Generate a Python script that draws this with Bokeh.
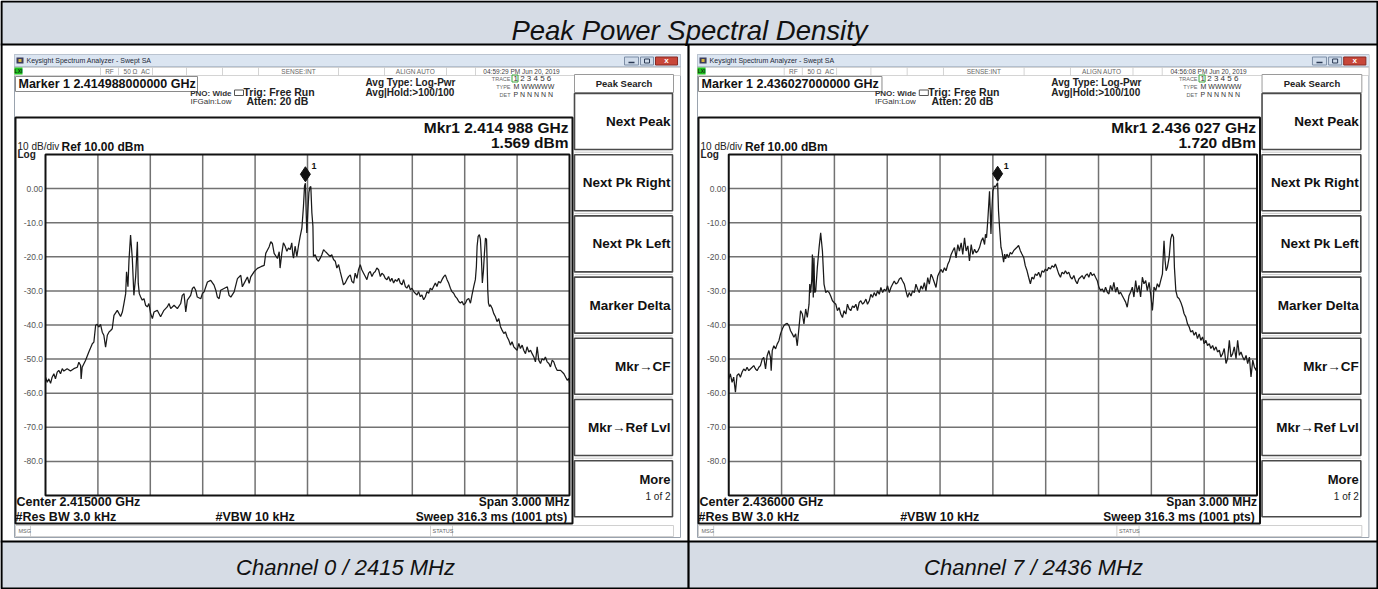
from bokeh.plotting import figure
from bokeh.models import Range1d
from bokeh.embed import file_html
from bokeh.resources import INLINE
from bokeh.core.properties import value

# ---------------- data ----------------
TITLE = "Peak Power Spectral Density"
CAPTIONS = ["Channel 0 / 2415 MHz", "Channel 7 / 2436 MHz"]
CENTER_MHZ = [2415.0, 2436.0]
SPAN_KHZ = 3000.0
REF_DBM = 10.0
DB_PER_DIV = 10.0
MARKER_MHZ = [2414.988, 2436.027]
MARKER_DBM = [1.569, 1.720]
TIMESTAMPS = ["04:59:29 PM Jun 20, 2019", "04:56:08 PM Jun 20, 2019"]
Y_TICKS = [0, -10, -20, -30, -40, -50, -60, -70, -80]
Y_TICK_LABELS = ["0.00", "-10.0", "-20.0", "-30.0", "-40.0", "-50.0", "-60.0", "-70.0", "-80.0"]
SOFTKEYS = ["Next Peak", "Next Pk Right", "Next Pk Left", "Marker Delta",
            "Mkr\u2192CF", "Mkr\u2192Ref Lvl", "More"]

# (offset from centre in kHz, level in dBm)
CH0_TRACE = [
    (-1500, -55.3), (-1490, -56.8), (-1481, -55.8), (-1471, -57.1), (-1462, -55.3), (-1452, -54.3),
    (-1443, -55.8), (-1433, -53.8), (-1424, -53.3), (-1414, -54.3), (-1404, -52.8), (-1395, -53.5),
    (-1376, -52.8), (-1357, -53.5), (-1338, -52.8), (-1318, -52.4), (-1309, -50.9), (-1299, -51.9),
    (-1296, -55.8), (-1290, -52.4), (-1271, -50.4), (-1252, -47.9), (-1232, -45.5), (-1223, -45.0),
    (-1213, -40.1), (-1204, -39.8), (-1194, -40.6), (-1185, -39.8), (-1175, -42.1), (-1166, -43.0),
    (-1156, -46.5), (-1146, -43.0), (-1137, -42.1), (-1127, -41.6), (-1118, -41.1), (-1108, -37.2),
    (-1089, -35.7), (-1070, -37.5), (-1060, -36.2), (-1051, -33.7), (-1041, -30.8), (-1036, -24.4),
    (-1028, -28.8), (-1022, -21.0), (-1013, -13.6), (-1003, -20.5), (-994, -31.3), (-984, -25.9),
    (-974, -15.6), (-969, -27.8), (-963, -30.8), (-955, -31.8), (-946, -32.7), (-936, -32.3),
    (-927, -34.2), (-917, -34.7), (-908, -33.7), (-898, -36.7), (-888, -38.1), (-879, -36.2),
    (-860, -35.7), (-841, -37.6), (-822, -35.7), (-803, -34.7), (-793, -33.7), (-783, -35.2),
    (-764, -34.2), (-745, -35.2), (-726, -33.7), (-717, -31.3), (-707, -30.8), (-697, -36.2),
    (-688, -32.7), (-669, -31.3), (-659, -29.3), (-650, -28.8), (-640, -29.8), (-631, -31.8),
    (-611, -32.3), (-602, -30.8), (-592, -30.3), (-573, -27.4), (-554, -26.9), (-535, -28.3),
    (-525, -29.8), (-516, -31.8), (-506, -32.3), (-497, -29.8), (-478, -29.3), (-459, -28.8),
    (-449, -31.3), (-439, -31.8), (-420, -30.3), (-401, -26.4), (-382, -25.4), (-373, -28.8),
    (-363, -27.8), (-344, -25.9), (-334, -27.8), (-325, -25.9), (-306, -24.4), (-287, -23.4),
    (-267, -22.9), (-248, -22.5), (-239, -19.0), (-229, -18.0), (-220, -17.1), (-210, -15.6),
    (-201, -16.1), (-191, -19.0), (-172, -20.5), (-162, -18.5),
    (-157, -23.3), (-147, -18.9), (-138, -15.9), (-128, -16.9), (-118, -18.4), (-109, -17.4),
    (-99, -17.9), (-90, -15.9), (-84, -19.4), (-80, -20.4), (-71, -16.9), (-61, -19.9),
    (-52, -16.9), (-42, -14.0), (-32, -11.5), (-23, -5.1), (-17, 0.8), (-12, 1.569),
    (-8, -6.1), (-4, -13.0), (2, -6.6), (8, -1.2), (14, 0.4), (19, 0.6), (25, -7.1), (31, -11.0),
    (34, -19.9), (44, -19.4), (54, -20.8), (63, -21.3), (73, -20.4), (82, -19.4), (92, -17.9),
    (101, -18.4), (111, -18.9), (120, -19.4), (130, -19.9), (139, -19.4), (149, -20.8),
    (159, -21.3), (168, -23.3), (178, -22.3), (187, -24.3), (197, -26.3), (206, -28.2),
    (216, -27.7), (225, -26.7), (235, -25.8), (245, -25.3), (254, -27.2), (264, -27.7),
    (273, -24.8), (283, -26.3), (292, -23.8), (302, -22.3), (311, -23.8), (321, -24.8),
    (331, -25.8), (340, -26.7), (350, -24.8), (359, -24.3), (369, -25.8), (378, -24.8),
    (388, -24.3), (397, -23.3), (407, -23.8), (417, -25.8), (426, -24.8), (436, -25.3),
    (445, -26.3), (455, -26.7), (464, -25.8), (474, -27.2), (483, -26.3), (493, -27.7),
    (503, -26.7), (512, -27.2), (522, -26.3), (531, -27.7), (541, -28.2), (550, -26.7),
    (560, -28.7), (569, -29.2), (579, -28.2), (589, -29.7), (598, -29.2), (608, -30.2),
    (617, -30.7), (627, -31.2), (636, -30.2), (646, -31.7), (655, -31.2), (665, -32.6),
    (675, -31.7), (684, -30.2), (694, -30.7), (703, -29.2), (713, -29.7), (722, -28.7),
    (732, -27.7), (741, -28.7), (751, -27.2), (761, -27.7), (770, -26.7), (780, -25.8),
    (789, -25.3), (799, -26.7), (808, -27.7), (818, -29.2), (827, -30.2), (837, -30.7),
    (847, -31.7), (856, -32.2), (866, -33.1), (875, -33.6), (885, -33.1), (894, -34.1),
    (904, -33.6), (913, -32.6), (923, -32.2), (933, -33.6), (942, -31.2), (952, -28.7),
    (961, -26.7), (967, -22.8), (971, -16.9), (977, -14.0), (984, -13.5), (990, -14.9),
    (996, -20.8), (1001, -27.7), (1007, -24.3), (1013, -18.9), (1019, -14.5), (1025, -14.9),
    (1028, -20.8), (1032, -29.7), (1036, -33.6), (1042, -34.6), (1047, -34.1), (1057, -35.1),
    (1066, -36.6), (1076, -37.6), (1085, -39.0), (1095, -38.1), (1105, -40.5), (1114, -41.5),
    (1124, -42.5), (1133, -42.0), (1143, -43.5), (1152, -44.4), (1162, -45.9), (1171, -44.9),
    (1181, -46.4), (1190, -46.9), (1200, -47.4), (1210, -45.4), (1219, -46.9), (1229, -45.9),
    (1238, -47.4), (1248, -48.4), (1257, -46.4), (1267, -47.9), (1277, -47.4), (1286, -48.4),
    (1296, -49.4), (1305, -50.8), (1315, -46.4), (1324, -50.3), (1334, -51.3), (1343, -49.9),
    (1353, -50.3), (1362, -49.4), (1372, -50.8), (1382, -51.3), (1391, -52.3), (1401, -50.3),
    (1410, -50.8), (1420, -52.3), (1429, -53.3), (1449, -53.3), (1468, -54.3), (1487, -56.2),
    (1496, -55.7), (1500, -57.0),
]

CH7_TRACE = [
    (-1500, -55.8), (-1491, -54.3), (-1481, -56.8), (-1472, -55.3), (-1462, -59.7), (-1453, -54.8),
    (-1443, -54.3), (-1434, -55.3), (-1424, -53.8), (-1415, -52.9), (-1405, -53.4), (-1396, -52.4),
    (-1386, -53.4), (-1377, -52.9), (-1367, -52.4), (-1358, -51.9), (-1348, -52.9), (-1339, -53.4),
    (-1329, -52.4), (-1320, -51.9), (-1310, -50.0), (-1301, -49.5), (-1291, -52.9), (-1282, -49.0),
    (-1272, -47.5), (-1263, -49.5), (-1259, -53.4), (-1253, -47.5), (-1244, -46.1), (-1234, -47.0),
    (-1225, -45.6), (-1215, -44.6), (-1206, -42.6), (-1196, -41.2), (-1187, -40.2), (-1177, -39.7),
    (-1168, -39.5), (-1158, -40.2), (-1149, -41.7), (-1139, -42.6), (-1130, -43.6), (-1120, -42.6),
    (-1111, -46.1), (-1101, -40.7), (-1092, -35.8), (-1082, -36.8), (-1073, -39.7), (-1063, -35.3),
    (-1054, -37.8), (-1044, -33.9), (-1040, -28.0), (-1035, -30.5), (-1029, -27.0), (-1025, -19.3),
    (-1020, -31.9), (-1016, -20.3), (-1012, -30.5), (-1006, -30.0), (-997, -23.2), (-987, -17.3),
    (-978, -13.0), (-968, -18.3), (-959, -28.0), (-949, -30.5), (-940, -30.0), (-930, -30.5),
    (-921, -31.5), (-911, -32.9), (-902, -33.4), (-892, -33.9), (-883, -35.8), (-873, -34.9),
    (-864, -36.8), (-854, -37.8), (-845, -35.8), (-835, -36.8), (-826, -33.9), (-816, -35.3),
    (-807, -35.8), (-797, -34.4), (-788, -34.9), (-778, -33.9), (-769, -35.8), (-759, -33.4),
    (-750, -32.9), (-740, -33.9), (-731, -33.4), (-721, -32.4), (-712, -33.9), (-702, -32.9),
    (-693, -31.0), (-683, -31.9), (-674, -30.5), (-664, -31.5), (-655, -30.0), (-645, -31.0),
    (-636, -29.0), (-626, -30.5), (-617, -29.5), (-607, -30.0), (-598, -28.5), (-588, -30.5),
    (-579, -29.0), (-569, -28.0), (-560, -27.1), (-551, -28.0), (-541, -27.6), (-532, -26.6),
    (-522, -26.1), (-513, -27.1), (-503, -28.0), (-494, -30.0), (-484, -31.9), (-475, -30.5),
    (-465, -31.5), (-456, -30.0), (-446, -30.5), (-437, -28.0), (-427, -29.5), (-418, -30.5),
    (-408, -28.5), (-399, -29.5), (-389, -27.6), (-380, -30.0), (-370, -26.1), (-361, -28.0),
    (-351, -25.1), (-342, -26.1), (-332, -27.6), (-323, -29.0), (-313, -25.6), (-304, -24.6),
    (-294, -23.7), (-285, -24.6), (-275, -23.2), (-266, -24.1), (-256, -22.2), (-247, -21.2),
    (-237, -19.3), (-228, -18.3), (-218, -17.3), (-209, -20.3), (-199, -16.4), (-190, -18.3),
    (-180, -15.9), (-171, -19.3), (-161, -14.4), (-152, -18.3), (-142, -16.8), (-133, -21.2),
    (-123, -16.4), (-114, -19.3), (-104, -17.8), (-95, -18.8), (-85, -18.3), (-76, -17.3),
    (-66, -15.4), (-57, -14.4), (-47, -16.4), (-42, -13.4), (-36, -14.4), (-28, -8.6),
    (-19, -0.8), (-15, -6.5), (-11, -13.3), (-6, -6.5), (0, -0.7), (8, 0.8), (15, 0.5),
    (27, 1.720), (32, -6.5), (38, -11.4), (46, -17.2), (51, -18.2), (57, -20.2), (61, -21.6),
    (67, -19.2), (72, -20.6), (80, -19.2), (89, -20.2), (99, -18.7), (108, -19.2), (118, -18.2),
    (127, -17.7), (137, -17.2), (146, -16.7), (156, -18.2), (165, -19.2), (175, -20.2),
    (184, -22.6), (194, -24.1), (203, -26.0), (213, -27.9), (222, -26.0), (232, -26.5),
    (241, -25.0), (251, -25.5), (260, -24.5), (270, -26.0), (279, -24.1), (289, -24.5),
    (298, -23.6), (308, -24.1), (317, -23.1), (327, -23.6), (336, -22.6), (346, -23.1),
    (355, -22.1), (365, -23.6), (374, -25.0), (384, -26.0), (393, -24.5), (403, -25.0),
    (412, -24.1), (422, -25.0), (431, -24.5), (441, -26.0), (450, -26.5), (460, -25.5),
    (469, -27.0), (479, -27.9), (488, -26.5), (498, -26.0), (507, -25.5), (517, -26.5),
    (526, -25.5), (536, -25.0), (545, -26.0), (555, -24.5), (564, -25.5), (574, -25.0),
    (583, -26.0), (593, -27.0), (602, -28.9), (612, -29.9), (621, -29.4), (631, -30.4),
    (640, -28.9), (650, -30.4), (659, -30.9), (668, -28.4), (678, -29.9), (687, -27.5),
    (697, -30.4), (706, -28.9), (716, -30.9), (725, -30.4), (735, -31.4), (744, -32.3),
    (754, -33.3), (763, -34.8), (773, -31.4), (782, -30.4), (792, -28.9), (801, -31.8),
    (811, -27.0), (820, -30.4), (830, -28.4), (839, -31.8), (849, -26.0), (858, -27.9),
    (868, -27.0), (877, -29.9), (887, -27.5), (896, -30.9), (906, -35.7), (912, -31.8),
    (915, -28.9), (925, -29.9), (934, -27.9), (944, -28.9), (953, -27.0), (963, -25.0),
    (968, -19.2), (972, -15.3), (978, -21.1), (984, -24.1), (991, -23.1), (1001, -20.2),
    (1010, -14.8), (1018, -13.3), (1026, -14.3), (1031, -23.1), (1039, -29.9), (1048, -31.8),
    (1058, -32.3), (1067, -33.3), (1077, -34.8), (1086, -36.7), (1096, -37.7), (1105, -39.6),
    (1115, -40.6), (1124, -42.1), (1134, -41.6), (1143, -43.0), (1153, -42.1), (1162, -44.0),
    (1172, -42.6), (1181, -44.5), (1191, -43.5), (1200, -45.5), (1210, -44.5), (1219, -46.0),
    (1229, -45.5), (1238, -46.9), (1248, -46.0), (1257, -47.4), (1267, -46.4), (1276, -47.9),
    (1286, -47.4), (1295, -49.4), (1305, -48.4), (1314, -46.9), (1324, -51.3), (1333, -49.9),
    (1343, -44.5), (1352, -49.4), (1362, -48.4), (1371, -46.4), (1381, -49.9), (1390, -44.5),
    (1400, -48.9), (1409, -47.9), (1419, -49.4), (1428, -50.3), (1438, -48.9), (1447, -51.3),
    (1457, -49.4), (1466, -55.2), (1476, -50.3), (1485, -52.3), (1495, -53.3), (1500, -51.8),
]
TRACES = [CH0_TRACE, CH7_TRACE]

# ---------------- layout (reference pixel space) ----------------
W, H = 1378, 589
PX0, PY0 = 0, 0
GRAT_TOP, GRAT_BOT = 154.0, 495.0
PANELS = [(14.0, 1.0), (697.0, 1.0081)]   # window left edge, horizontal scale
FONT = "Liberation Sans"

p = figure(width=W, height=H, x_range=Range1d(PX0, PX0 + W), y_range=Range1d(PY0 + H, PY0),
           output_backend="svg", toolbar_location=None, x_axis_type=None, y_axis_type=None,
           min_border=0, title=None)
p.outline_line_color = None
p.background_fill_color = "white"
p.border_fill_color = "white"

bottom_db = REF_DBM - 10 * DB_PER_DIV
dbpp = (REF_DBM - bottom_db) / (GRAT_BOT - GRAT_TOP)  # dB per pixel
p.extra_y_ranges = {"dB": Range1d(bottom_db - (PY0 + H - GRAT_BOT) * dbpp,
                                  REF_DBM + (GRAT_TOP - PY0) * dbpp)}
xr = {}
for k, (x0, sx) in enumerate(PANELS):
    gx0 = x0 + (45 - 14) * sx
    gx1 = x0 + (569 - 14) * sx
    kpp = SPAN_KHZ / (gx1 - gx0)
    xr["f%d" % k] = Range1d(-SPAN_KHZ / 2 + (PX0 - gx0) * kpp, -SPAN_KHZ / 2 + (PX0 + W - gx0) * kpp)
p.extra_x_ranges = xr


def box(l, r, t, b, fill=None, line=None, lw=1.0):
    p.quad(left=[l], right=[r], top=[t], bottom=[b], fill_color=fill, line_color=line, line_width=lw)


def seg(x0, y0, x1, y1, color="#000", lw=1.0):
    p.segment(x0=[x0], y0=[y0], x1=[x1], y1=[y1], line_color=color, line_width=lw)


def txt(x, y, s, size, bold=False, italic=False, align="left", color="#000", **kw):
    style = " ".join([w for w, f in (("bold", bold), ("italic", italic)) if f]) or "normal"
    p.text(x=[x], y=[y], text=[s], text_font=value(FONT), text_font_size=value("%spx" % size),
           text_font_style=style, text_align=align, text_baseline="middle", text_color=color, **kw)


# table bands
box(0, 1378, 0, 44, fill="#d6dce5")
box(0, 1378, 541, 589, fill="#d6dce5")
box(0, 1378, 44, 541, fill="white")
txt(689, 30, TITLE, 27.5, italic=True, align="center", color="#111")
txt(345, 567, CAPTIONS[0], 22, italic=True, align="center", color="#111")
txt(1033, 567, CAPTIONS[1], 22, italic=True, align="center", color="#111")


def panel(k):
    x0, sx = PANELS[k]
    X = lambda a: x0 + (a - 14) * sx
    rn = "f%d" % k
    cmhz = CENTER_MHZ[k]
    # window
    box(X(14), X(680), 54, 537, fill="white", line="#9aa3ae", lw=1)
    box(X(14), X(680), 54, 66, fill="#dbe5f1", line=None)
    seg(X(14), 66, X(680), 66, "#b4c0cf", 1)
    box(X(16), X(23), 57, 63, fill="#3c3c5c", line=None)
    box(X(18), X(21), 58.5, 61.5, fill="#d9b640", line=None)
    txt(X(26), 60, "Keysight Spectrum Analyzer - Swept SA", 7, color="#1e2a3a")
    box(X(624), X(638), 56.5, 64.5, fill="#cfdbea", line="#7d8ea6")
    seg(X(628), 62, X(634), 62, "#2b3a55", 1.5)
    box(X(640), X(653), 56.5, 64.5, fill="#cfdbea", line="#7d8ea6")
    box(X(644), X(649), 58.5, 62.5, fill=None, line="#2b3a55", lw=1)
    box(X(655), X(677), 56.5, 64.5, fill="#c8473a", line="#8a2a22")
    txt(X(666), 60.3, "x", 8, bold=True, align="center", color="white")
    # status row
    box(X(14), X(680), 67, 75, fill="white", line="#c9c9c9", lw=0.8)
    box(X(14), X(22), 67, 74, fill="#1fc31f", line=None)
    txt(X(18), 70.5, "LXI", 5, bold=True, align="center", color="#113311")
    for xs in (100, 118, 152, 186, 222, 258, 338, 384, 446, 475):
        seg(X(xs), 67, X(xs), 75, "#c9c9c9", 0.8)
    txt(X(109), 71, "RF", 6.5, align="center", color="#666")
    txt(X(130), 71, "50 \u03a9", 6.5, align="center", color="#666")
    txt(X(145), 71, "AC", 6.5, align="center", color="#666")
    txt(X(298), 71, "SENSE:INT", 6.5, align="center", color="#666")
    txt(X(415), 71, "ALIGN AUTO", 6.5, align="center", color="#666")
    txt(X(521), 71, TIMESTAMPS[k], 6.5, align="center", color="#444")
    # marker readout line
    box(X(15), X(197), 76, 91, fill="white", line="#8a8a8a", lw=1)
    txt(X(18), 83, "Marker 1 %.12f GHz" % (MARKER_MHZ[k] / 1000.0), 12.5, bold=True, color="#111")
    txt(X(231), 92.5, "PNO: Wide", 8, bold=True, align="right", color="#333")
    box(X(234), X(243), 89.5, 95, fill=None, line="#555", lw=1)
    txt(X(190), 101, "IFGain:Low", 8, color="#333")
    txt(X(243), 91, "Trig: Free Run", 10.5, bold=True, color="#222")
    txt(X(246), 100.5, "Atten: 20 dB", 10.5, bold=True, color="#222")
    txt(X(365), 82, "Avg Type: Log-Pwr", 10, bold=True, color="#222")
    txt(X(365), 91.5, "Avg|Hold:>100/100", 10, bold=True, color="#222")
    txt(X(510), 78, "TRACE", 5.5, align="right", color="#666")
    box(X(511.5), X(517.5), 74.5, 81.5, fill=None, line="#3aa63a", lw=1)
    txt(X(513), 78.3, "1 2 3 4 5 6", 8, color="#333")
    txt(X(510), 86, "TYPE", 5.5, align="right", color="#666")
    txt(X(513), 86.2, "M WWWWW", 7, color="#333")
    txt(X(510), 94, "DET", 5.5, align="right", color="#666")
    txt(X(513), 94.2, "P N N N N N", 7, color="#333")
    # soft keys
    box(X(574), X(673), 74, 92, fill="white", line="#9a9a9a", lw=1)
    txt(X(623.5), 83, "Peak Search", 9.5, bold=True, align="center", color="#222")
    for i, lab in enumerate(SOFTKEYS):
        top = 93 + 61.2 * i
        box(X(574), X(672), top, top + 56, fill="white", line="#4a4a4a", lw=1.6)
        if i > 0:
            seg(X(574), top - 2.5, X(672), top - 2.5, "#c8c8c8", 1)
        if lab == "More":
            txt(X(670), top + 19, lab, 13, bold=True, align="right", color="#111")
            txt(X(670), top + 36, "1 of 2", 10, align="right", color="#222")
        else:
            txt(X(670), top + 28, lab, 13.5, bold=True, align="right", color="#111")
    # display area
    box(X(15), X(572), 117, 523, fill=None, line="#111", lw=2)
    g = "%.6f" % (MARKER_MHZ[k] / 1000)
    txt(X(568), 127, "Mkr1 %s %s GHz" % (g[:5], g[5:]), 15.5, bold=True, align="right", color="#111")
    txt(X(568), 141.5, "%.3f dBm" % MARKER_DBM[k], 15.5, bold=True, align="right", color="#111")
    txt(X(17), 146, "10 dB/div", 10, color="#222")
    txt(X(17), 153.5, "Log", 10, bold=True, color="#222")
    txt(X(61), 146, "Ref %.2f dBm" % REF_DBM, 12, bold=True, color="#111")
    # graticule
    half = SPAN_KHZ / 2
    vx = [-half + SPAN_KHZ / 10 * i for i in range(1, 10)]
    p.segment(x0=vx, y0=[bottom_db] * 9, x1=vx, y1=[REF_DBM] * 9, line_color="#727272",
              line_width=1.5, x_range_name=rn, y_range_name="dB")
    hy = [REF_DBM - DB_PER_DIV * i for i in range(1, 10)]
    p.segment(x0=[-half] * 9, y0=hy, x1=[half] * 9, y1=hy, line_color="#727272",
              line_width=1.5, x_range_name=rn, y_range_name="dB")
    p.text(x=[-half] * len(Y_TICKS), y=Y_TICKS, text=Y_TICK_LABELS, x_offset=-2.5,
           text_font=value(FONT), text_font_size=value("8.5px"), text_align="right",
           text_baseline="middle", text_color="#555", x_range_name=rn, y_range_name="dB")
    fk = [t[0] for t in TRACES[k]]
    db = [t[1] for t in TRACES[k]]
    p.line(fk, db, line_color="#1a1a1a", line_width=1.25, x_range_name=rn, y_range_name="dB")
    p.quad(left=[-half], right=[half], top=[REF_DBM], bottom=[bottom_db], fill_color=None,
           line_color="#111", line_width=2, x_range_name=rn, y_range_name="dB")
    mk = (MARKER_MHZ[k] - cmhz) * 1000.0
    p.scatter(x=[mk], y=[MARKER_DBM[k] + 9 * dbpp], marker="diamond", size=15,
              fill_color="#111", line_color="#111", x_range_name=rn, y_range_name="dB")
    p.text(x=[mk], y=[MARKER_DBM[k] + 9 * dbpp], text=["1"], x_offset=6, y_offset=-8,
           text_font=value(FONT), text_font_size=value("9px"), text_font_style="bold",
           text_baseline="middle", text_color="#111", x_range_name=rn, y_range_name="dB")
    # bottom annotations
    txt(X(16), 501, "Center %.6f GHz" % (cmhz / 1000), 12.5, bold=True, color="#111")
    txt(X(569), 501, "Span %.3f MHz" % (SPAN_KHZ / 1000), 12, bold=True, align="right", color="#111")
    txt(X(15), 516, "#Res BW 3.0 kHz", 12.5, bold=True, color="#111")
    txt(X(215), 516, "#VBW 10 kHz", 12.5, bold=True, color="#111")
    txt(X(570), 516, "Sweep  316.3 ms (1001 pts)", 12, bold=True, align="right", color="#111")
    # message row
    box(X(15), X(673), 525, 536, fill="white", line="#c4c4c4", lw=0.8)
    seg(X(30), 525, X(30), 536, "#c4c4c4", 0.8)
    seg(X(430), 525, X(430), 536, "#c4c4c4", 0.8)
    seg(X(452), 525, X(452), 536, "#c4c4c4", 0.8)
    txt(X(18), 530.5, "MSG", 5.5, color="#666")
    txt(X(432), 530.5, "STATUS", 5.5, color="#666")


panel(0)
panel(1)

# table rules
seg(0, 44, 1378, 44, "#000", 2.2)
seg(0, 541, 1378, 541, "#000", 2.2)
seg(688, 44, 688, 589, "#000", 2.2)
box(1, 1377, 1, 588, fill=None, line="#000", lw=2.2)

open("out.html", "w").write(file_html(p, INLINE))
